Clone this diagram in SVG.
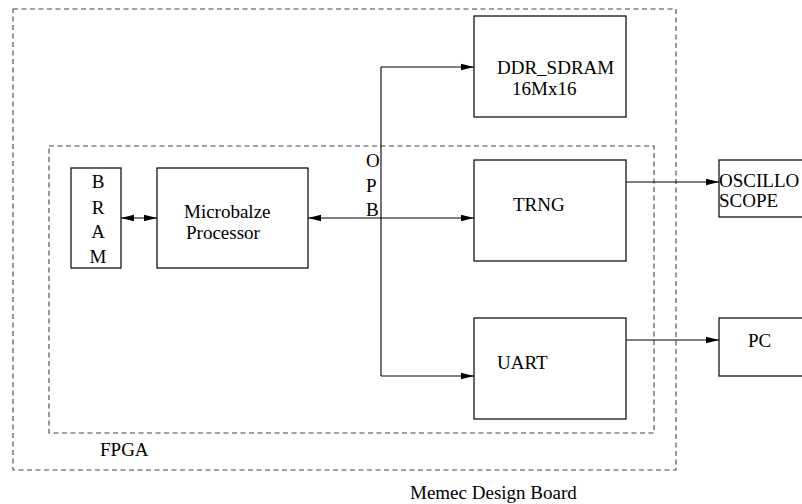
<svg xmlns="http://www.w3.org/2000/svg" width="802" height="504" viewBox="0 0 802 504">
<style>
.box{fill:#fff;stroke:#000;stroke-width:1.2}
.dash{fill:none;stroke:#444;stroke-width:1.1;stroke-dasharray:5 3.5}
.ln{fill:none;stroke:#000;stroke-width:1.1}
text{font-family:"Liberation Serif","Times New Roman",serif;font-size:19px;fill:#000}
</style>
<defs>
<marker id="ah" markerWidth="13" markerHeight="8" refX="13" refY="4" orient="auto" markerUnits="userSpaceOnUse">
<path d="M0,0.8 L13,4 L0,7.2 Z" fill="#000"/>
</marker>
<marker id="as" markerWidth="13" markerHeight="8" refX="0" refY="4" orient="auto" markerUnits="userSpaceOnUse">
<path d="M13,0.8 L0,4 L13,7.2 Z" fill="#000"/>
</marker>
</defs>
<rect width="802" height="504" fill="#fff"/>
<g id="board">
<rect class="dash" x="13" y="9" width="663" height="461"/>
<text x="410" y="499">Memec Design Board</text>
</g>
<g id="fpga">
<rect class="dash" x="49" y="146" width="605" height="287"/>
<text x="100" y="456">FPGA</text>
</g>
<g id="bram">
<rect class="box" x="71" y="168" width="50" height="100"/>
<text x="98" y="188" text-anchor="middle">B</text>
<text x="98" y="214" text-anchor="middle">R</text>
<text x="98" y="238" text-anchor="middle">A</text>
<text x="98" y="263" text-anchor="middle">M</text>
</g>
<g id="microblaze">
<rect class="box" x="157" y="168" width="151" height="100"/>
<text x="184" y="218">Microbalze</text>
<text x="186" y="239">Processor</text>
</g>
<g id="ddr">
<rect class="box" x="474" y="16" width="152" height="101"/>
<text x="497" y="74">DDR_SDRAM</text>
<text x="512" y="95">16Mx16</text>
</g>
<g id="trng">
<rect class="box" x="474" y="160" width="152" height="101"/>
<text x="513" y="211">TRNG</text>
</g>
<g id="uart">
<rect class="box" x="474" y="318" width="152" height="101"/>
<text x="497" y="369">UART</text>
</g>
<g id="oscilloscope">
<rect class="box" x="719" y="160" width="90" height="57"/>
<text x="719" y="187">OSCILLO</text>
<text x="719" y="207">SCOPE</text>
</g>
<g id="pc">
<rect class="box" x="719" y="318" width="90" height="58"/>
<text x="748" y="347">PC</text>
</g>
<g id="opb">
<text x="366" y="167">O</text>
<text x="366" y="192">P</text>
<text x="366" y="216">B</text>
</g>
<g id="connectors">
<path class="ln" d="M121,218 H157" marker-start="url(#as)" marker-end="url(#ah)"/>
<path class="ln" d="M381,67 V376"/>
<path class="ln" d="M381,67 H474" marker-end="url(#ah)"/>
<path class="ln" d="M308,218 H474" marker-start="url(#as)" marker-end="url(#ah)"/>
<path class="ln" d="M381,376 H474" marker-end="url(#ah)"/>
<path class="ln" d="M626,182 H719" marker-end="url(#ah)"/>
<path class="ln" d="M626,340 H719" marker-end="url(#ah)"/>
</g>
</svg>
